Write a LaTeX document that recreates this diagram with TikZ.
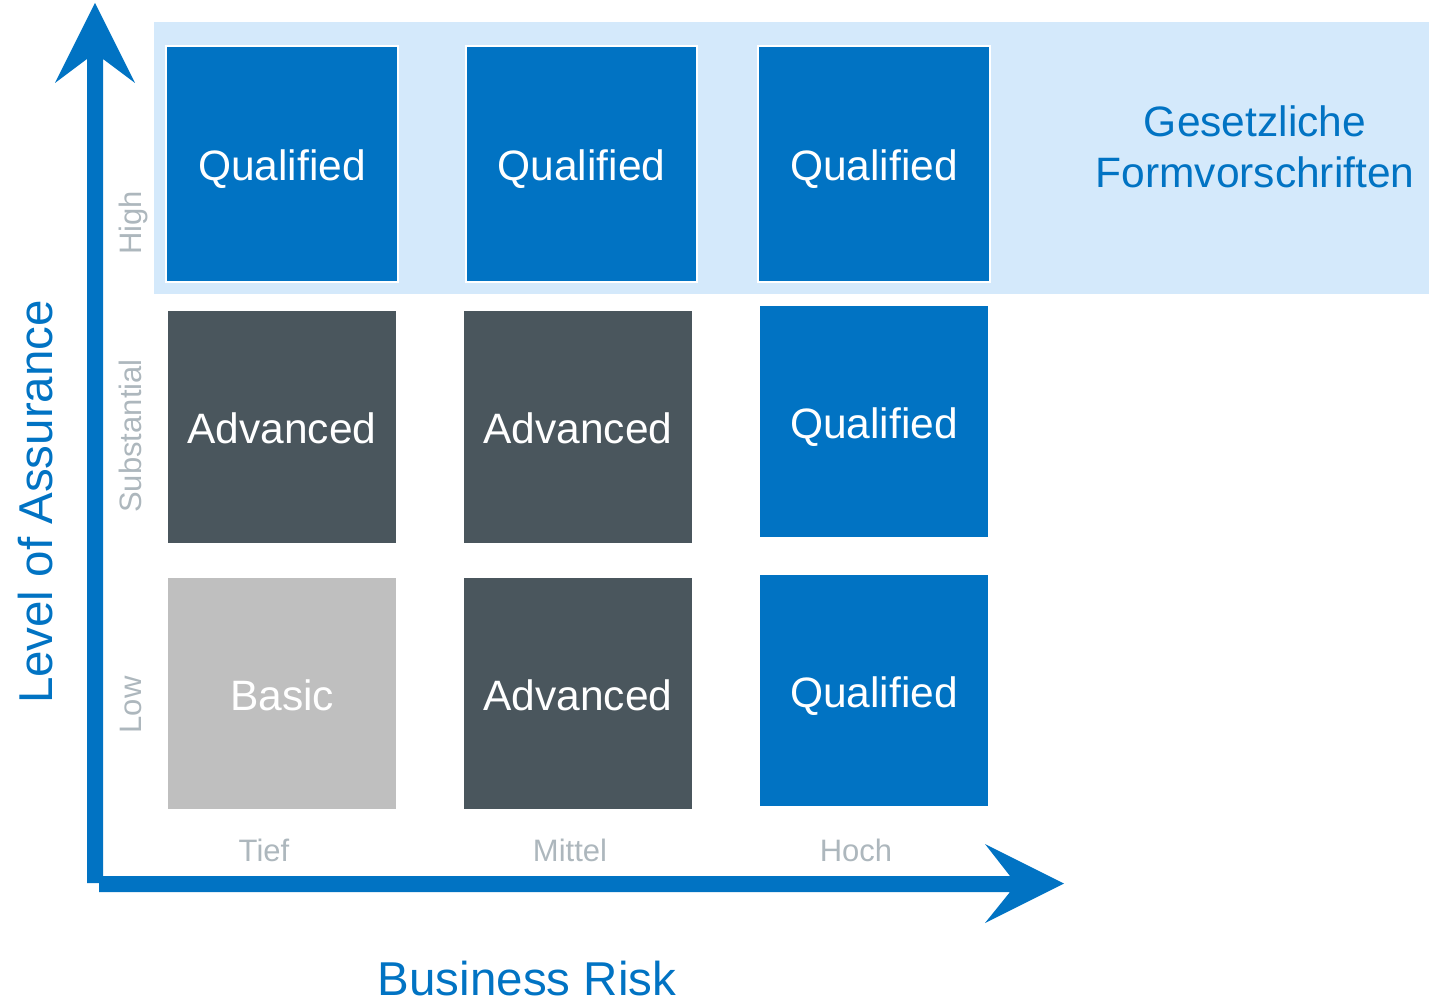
\documentclass[tikz,border=0pt]{standalone}
\usepackage{fontspec}
\setmainfont{Liberation Sans}
\definecolor{cblue}{HTML}{0173C3}
\definecolor{cband}{HTML}{D4E9FB}
\definecolor{cdark}{HTML}{4A565D}
\definecolor{clight}{HTML}{BFBFBF}
\definecolor{cgrey}{HTML}{ADB7BD}
\begin{document}
\begin{tikzpicture}[x=1pt,y=-1pt,
  cell/.style={draw=white,line width=1.5pt},
  celltext/.style={anchor=base,text=white,font=\fontsize{42.5}{50}\selectfont,inner sep=0pt},
  bandtext/.style={anchor=base,text=cblue,font=\fontsize{42.5}{50}\selectfont,inner sep=0pt},
  axlab/.style={anchor=base,text=cgrey,font=\fontsize{31}{36}\selectfont,inner sep=0pt},
  axtitle/.style={anchor=base,text=cblue,font=\fontsize{47.5}{54}\selectfont,inner sep=0pt},
  axis/.style={fill=cblue}]
\useasboundingbox (0,0) rectangle (1429,1003);
% band
\fill[cband] (154,22) rectangle (1429,294);
% row 1
\filldraw[cell,fill=cblue] (166,46) rectangle (398,282);
\filldraw[cell,fill=cblue] (466,46) rectangle (697,282);
\filldraw[cell,fill=cblue] (758,46) rectangle (990,282);
% row 2
\filldraw[cell,fill=cdark] (167,310) rectangle (397,544);
\filldraw[cell,fill=cdark] (463,310) rectangle (693,544);
\filldraw[cell,fill=cblue] (759,305) rectangle (989,538);
% row 3
\filldraw[cell,fill=clight] (167,577) rectangle (397,810);
\filldraw[cell,fill=cdark] (463,577) rectangle (693,810);
\filldraw[cell,fill=cblue] (759,574) rectangle (989,807);
% texts
\node[celltext] (q11) at (282,181) {Qualified};
\node[celltext] (q12) at (581.5,181) {Qualified};
\node[celltext] (q13) at (874,181) {Qualified};
\node[celltext] (a21) at (282,443) {Advanced};
\node[celltext] (a22) at (578,443) {Advanced};
\node[celltext] (q23) at (874,438.5) {Qualified};
\node[celltext] (b31) at (282,710) {Basic};
\node[celltext] (a32) at (578,710) {Advanced};
\node[celltext] (q33) at (874,707.5) {Qualified};
\node[bandtext] (g1) at (1255,137) {Gesetzliche};
\node[bandtext] (g2) at (1255,188) {Formvorschriften};
% axis labels
\node[axlab] (tief) at (264,861) {Tief};
\node[axlab] (mittel) at (570,861) {Mittel};
\node[axlab] (hoch) at (856,861) {Hoch};
\node[axlab,rotate=90] (high) at (141,223) {High};
\node[axlab,rotate=90] (subst) at (141,436) {Substantial};
\node[axlab,rotate=90] (low) at (141,705) {Low};
\node[axtitle,rotate=90] (loa) at (52,502) {Level of Assurance};
\node[axtitle] (br) at (527,995) {Business Risk};
% axes
\coordinate (origin) at (95,884);
\fill[axis] (87,883) -- (87,59) -- (55,83) -- (95,3) -- (135,83) -- (103,59) -- (103,883) -- cycle;
\fill[axis] (99,876) -- (1010,876) -- (985,844) -- (1064,883.5) -- (985,923) -- (1010,892) -- (99,892) -- cycle;
\end{tikzpicture}
\end{document}
